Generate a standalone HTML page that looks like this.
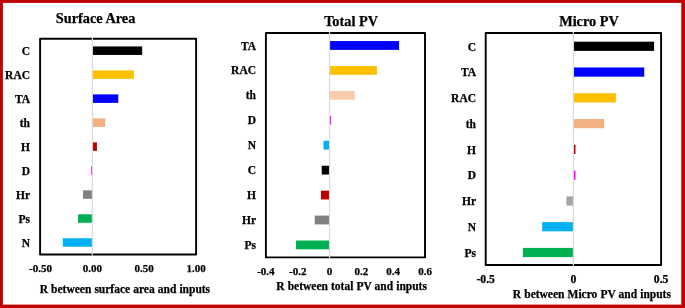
<!DOCTYPE html>
<html><head><meta charset="utf-8"><style>
html,body{margin:0;padding:0;background:#fff;}
body{width:685px;height:308px;overflow:hidden;}
svg{display:block;will-change:transform;filter:blur(0.35px);}
text{font-family:"Liberation Serif", serif;font-weight:bold;fill:#000;stroke:#000;stroke-width:0.25px;}
</style></head><body>
<svg width="685" height="308" viewBox="0 0 685 308">
<rect x="0" y="0" width="685" height="308" fill="#fff"/>
<rect x="92.37" y="46.44" width="49.79" height="8.5" fill="#000000"/>
<text x="30" y="55.08" text-anchor="end" font-size="11.5">C</text>
<rect x="92.37" y="70.42" width="41.49" height="8.5" fill="#FFC000"/>
<text x="30" y="79.06" text-anchor="end" font-size="11.5">RAC</text>
<rect x="92.37" y="94.39" width="25.93" height="8.5" fill="#0000FF"/>
<text x="30" y="103.04" text-anchor="end" font-size="11.5">TA</text>
<rect x="92.37" y="118.37" width="12.86" height="8.5" fill="#F4B183"/>
<text x="30" y="127.02" text-anchor="end" font-size="11.5">th</text>
<rect x="92.37" y="142.35" width="4.56" height="8.5" fill="#C00000"/>
<text x="30" y="151" text-anchor="end" font-size="11.5">H</text>
<rect x="91.07" y="166.33" width="1.3" height="8.5" fill="#FF00FF"/>
<text x="30" y="174.97" text-anchor="end" font-size="11.5">D</text>
<rect x="83.03" y="190.31" width="9.34" height="8.5" fill="#808080"/>
<text x="30" y="198.95" text-anchor="end" font-size="11.5">Hr</text>
<rect x="78.05" y="214.28" width="14.32" height="8.5" fill="#00B050"/>
<text x="30" y="222.93" text-anchor="end" font-size="11.5">Ps</text>
<rect x="62.8" y="238.26" width="29.56" height="8.5" fill="#00B0F0"/>
<text x="30" y="246.91" text-anchor="end" font-size="11.5">N</text>
<rect x="40.1" y="38.7" width="156" height="215.8" fill="none" stroke="#000" stroke-width="1.9" stroke-linejoin="round"/>
<line x1="92.37" y1="37.8" x2="92.37" y2="255.4" stroke="#D9D9D9" stroke-width="1.2"/>
<text x="40.5" y="272.1" text-anchor="middle" font-size="11">-0.50</text>
<text x="92.37" y="272.1" text-anchor="middle" font-size="11">0.00</text>
<text x="144.23" y="272.1" text-anchor="middle" font-size="11">0.50</text>
<text x="196.1" y="272.1" text-anchor="middle" font-size="11">1.00</text>
<text x="95.6" y="22.5" text-anchor="middle" font-size="14.3">Surface Area</text>
<text x="124.9" y="292.7" text-anchor="middle" font-size="11.5" word-spacing="0.2">R between surface area and inputs</text>
<rect x="329.54" y="41.07" width="69.53" height="8.8" fill="#0000FF"/>
<text x="256" y="49.56" text-anchor="end" font-size="11.5">TA</text>
<rect x="329.54" y="66" width="47.41" height="8.8" fill="#FFC000"/>
<text x="256" y="74.49" text-anchor="end" font-size="11.5">RAC</text>
<rect x="329.54" y="90.93" width="25.14" height="8.8" fill="#F8CBAD"/>
<text x="256" y="99.43" text-anchor="end" font-size="11.5">th</text>
<rect x="329.54" y="115.87" width="1.59" height="8.8" fill="#FF00FF"/>
<text x="256" y="124.36" text-anchor="end" font-size="11.5">D</text>
<rect x="323.49" y="140.8" width="6.05" height="8.8" fill="#00B0F0"/>
<text x="256" y="149.29" text-anchor="end" font-size="11.5">N</text>
<rect x="321.74" y="165.73" width="7.8" height="8.8" fill="#000000"/>
<text x="256" y="174.23" text-anchor="end" font-size="11.5">C</text>
<rect x="320.95" y="190.67" width="8.59" height="8.8" fill="#C00000"/>
<text x="256" y="199.16" text-anchor="end" font-size="11.5">H</text>
<rect x="314.74" y="215.6" width="14.8" height="8.8" fill="#808080"/>
<text x="256" y="224.09" text-anchor="end" font-size="11.5">Hr</text>
<rect x="295.97" y="240.53" width="33.57" height="8.8" fill="#00B050"/>
<text x="256" y="249.03" text-anchor="end" font-size="11.5">Ps</text>
<rect x="265.9" y="33" width="159.1" height="224.4" fill="none" stroke="#000" stroke-width="1.9" stroke-linejoin="round"/>
<line x1="329.54" y1="32.1" x2="329.54" y2="258.3" stroke="#D9D9D9" stroke-width="1.2"/>
<text x="265.9" y="275.3" text-anchor="middle" font-size="11">-0.4</text>
<text x="297.72" y="275.3" text-anchor="middle" font-size="11">-0.2</text>
<text x="329.54" y="275.3" text-anchor="middle" font-size="11">0</text>
<text x="361.36" y="275.3" text-anchor="middle" font-size="11">0.2</text>
<text x="393.18" y="275.3" text-anchor="middle" font-size="11">0.4</text>
<text x="425" y="275.3" text-anchor="middle" font-size="11">0.6</text>
<text x="351.1" y="25.7" text-anchor="middle" font-size="14.3">Total PV</text>
<text x="351.6" y="290.2" text-anchor="middle" font-size="11.5" word-spacing="0.2">R between total PV and inputs</text>
<rect x="573.4" y="41.69" width="80.68" height="9.2" fill="#000000"/>
<text x="476" y="50.58" text-anchor="end" font-size="11.5">C</text>
<rect x="573.4" y="67.47" width="70.86" height="9.2" fill="#0000FF"/>
<text x="476" y="76.36" text-anchor="end" font-size="11.5">TA</text>
<rect x="573.4" y="93.24" width="42.45" height="9.2" fill="#FFC000"/>
<text x="476" y="102.14" text-anchor="end" font-size="11.5">RAC</text>
<rect x="573.4" y="119.02" width="30.7" height="9.2" fill="#F4B183"/>
<text x="476" y="127.92" text-anchor="end" font-size="11.5">th</text>
<rect x="573.4" y="144.8" width="2.1" height="9.2" fill="#C00000"/>
<text x="476" y="153.69" text-anchor="end" font-size="11.5">H</text>
<rect x="573.4" y="170.58" width="2.1" height="9.2" fill="#FF00FF"/>
<text x="476" y="179.47" text-anchor="end" font-size="11.5">D</text>
<rect x="566.38" y="196.36" width="7.02" height="9.2" fill="#A6A6A6"/>
<text x="476" y="205.25" text-anchor="end" font-size="11.5">Hr</text>
<rect x="542.18" y="222.13" width="31.22" height="9.2" fill="#00B0F0"/>
<text x="476" y="231.03" text-anchor="end" font-size="11.5">N</text>
<rect x="522.88" y="247.91" width="50.52" height="9.2" fill="#00B050"/>
<text x="476" y="256.81" text-anchor="end" font-size="11.5">Ps</text>
<rect x="485.7" y="33" width="175.4" height="232" fill="none" stroke="#000" stroke-width="1.9" stroke-linejoin="round"/>
<line x1="573.4" y1="32.1" x2="573.4" y2="265.9" stroke="#D9D9D9" stroke-width="1.2"/>
<text x="485.7" y="282.6" text-anchor="middle" font-size="11.7">-0.5</text>
<text x="573.4" y="282.6" text-anchor="middle" font-size="11.7">0</text>
<text x="661.1" y="282.6" text-anchor="middle" font-size="11.7">0.5</text>
<text x="589" y="25.8" text-anchor="middle" font-size="14.3">Micro PV</text>
<text x="591.9" y="297.7" text-anchor="middle" font-size="11.5" word-spacing="0.2">R between Micro PV and inputs</text>
<rect x="0" y="0" width="685" height="2.9" fill="#C00000"/>
<rect x="0" y="0" width="2.9" height="308" fill="#C00000"/>
<rect x="681.3" y="0" width="3.7" height="308" fill="#C00000"/>
<rect x="0" y="304.6" width="685" height="3.4" fill="#C00000"/>
</svg>
</body></html>
